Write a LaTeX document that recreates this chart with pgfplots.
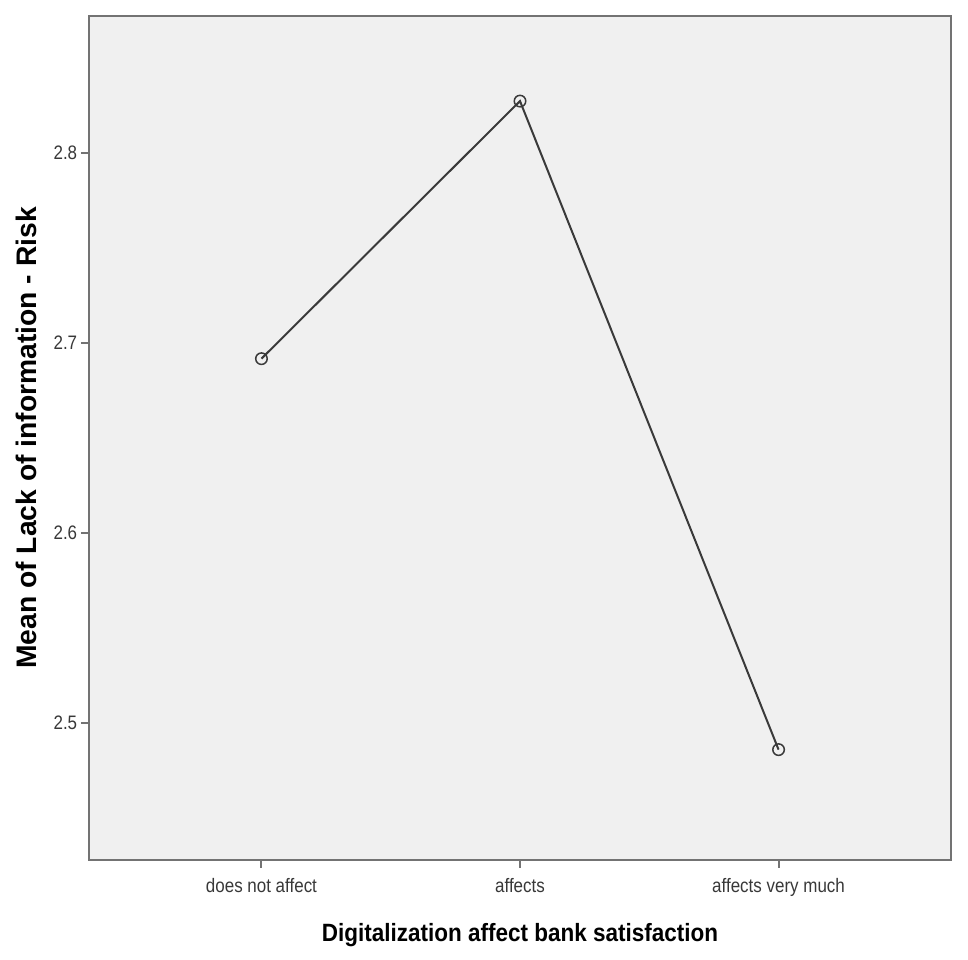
\documentclass[border=0pt]{standalone}
\usepackage{pgfplots}
\pgfplotsset{compat=1.18}
\usepackage{fontspec}
\setmainfont{Liberation Sans}
\newfontfamily\narrowfont[FakeStretch=0.87]{Liberation Sans}
\newfontfamily\xlabfont[FakeStretch=0.9]{Liberation Sans}
\definecolor{plotbg}{HTML}{F0F0F0}
\definecolor{framegray}{HTML}{737373}
\definecolor{linegray}{HTML}{3A3A3A}
\begin{document}
\begin{tikzpicture}
\begin{axis}[
  scale only axis,
  width=344.8pt, height=337.6pt,
  xmin=-0.667, xmax=2.667,
  ymin=2.4277, ymax=2.872,
  clip=false,
  axis background/.style={fill=plotbg},
  axis line style={framegray, line width=1.05pt},
  xtick={0,1,2},
  xticklabels={does not affect, affects, affects very much},
  ytick={2.5,2.6,2.7,2.8},
  yticklabels={2.5,2.6,2.7,2.8},
  xtick pos=left, ytick pos=left,
  tick align=outside,
  major tick length=3.2pt,
  every tick/.style={framegray, line width=0.8pt},
  tick label style={font=\narrowfont\fontsize{7.8}{9}\selectfont, text=black!78},
  xticklabel style={yshift=-0.5pt},
  yticklabel style={xshift=2pt},
  xlabel={Digitalization affect bank satisfaction},
  ylabel={Mean of Lack of information - Risk},
  every axis x label/.style={at={([yshift=-30pt]rel axis cs:0.5,0)}, anchor=center,
    font=\xlabfont\bfseries\fontsize{10}{12}\selectfont},
  every axis y label/.style={at={([xshift=-25pt]rel axis cs:0,0.5)}, anchor=center, rotate=90,
    font=\bfseries\fontsize{11.3}{13}\selectfont},
]
\addplot[linegray, line width=0.8pt, mark=o, mark size=2.3pt,
  mark options={line width=0.6pt, linegray}]
  coordinates {(0,2.6916) (1,2.8272) (2,2.4858)};
\path ([xshift=-35.6pt,yshift=-40pt]rel axis cs:0,0) rectangle ([xshift=6.8pt,yshift=6.4pt]rel axis cs:1,1);
\end{axis}
\end{tikzpicture}
\end{document}
